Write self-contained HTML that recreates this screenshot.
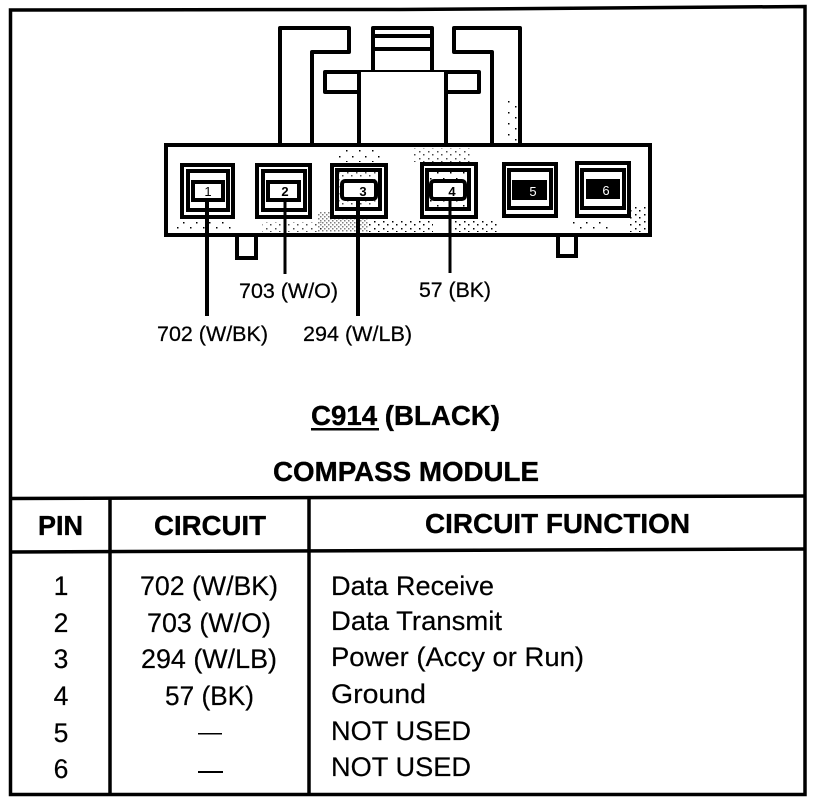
<!DOCTYPE html>
<html><head><meta charset="utf-8"><style>
html,body{margin:0;padding:0;background:#fff}
svg{display:block}
text{font-family:"Liberation Sans",Arial,sans-serif;fill:#000}
.b{font-weight:700;font-size:27.5px;stroke:#000;stroke-width:.35px}
.r{font-size:26.5px;stroke:#000;stroke-width:.2px}
.f{font-size:27px;stroke:#000;stroke-width:.2px}
.l{font-size:21.5px;stroke:#000;stroke-width:.25px}
</style></head><body>
<svg width="832" height="802" viewBox="0 0 832 802" xmlns="http://www.w3.org/2000/svg">
<defs>
<pattern id="d" width="4" height="4" patternUnits="userSpaceOnUse"><rect width="1.5" height="1.5" fill="#000"/><rect x="2" y="2" width="1.5" height="1.5" fill="#000"/></pattern>
<pattern id="s" width="9" height="7" patternUnits="userSpaceOnUse"><rect width="1.5" height="1.5" fill="#000"/><rect x="5" y="4" width="1.5" height="1.5" fill="#000"/></pattern>
<pattern id="t" width="13" height="11" patternUnits="userSpaceOnUse"><rect x="1" y="2" width="1.5" height="1.5" fill="#000"/><rect x="8" y="7" width="1.5" height="1.5" fill="#000"/></pattern>
</defs>
<rect width="832" height="802" fill="#fff"/>
<!-- outer frame -->
<path d="M10.5 10 L400 9.5 L805 6.5 L805 794.5 L10.5 794.5 Z" fill="none" stroke="#000" stroke-width="3.5"/>
<!-- table lines -->
<g stroke="#000" fill="none">
<path d="M10 498.5 L805 496" stroke-width="3.5"/>
<path d="M10 552 L805 549" stroke-width="3.5"/>
<path d="M110 498V794" stroke-width="3.5"/>
<path d="M309 498V794" stroke-width="3.5"/>
</g>
<!-- connector top -->
<g stroke="#000" stroke-width="4" fill="#fff" stroke-linejoin="round">
<path d="M280 145V28H349V52H312V145"/>
<path d="M454 28H520V145H492V52H454Z"/>
<path d="M373 72V28H432V72"/>
<path d="M373 36H432M373 49H432" fill="none"/>
<path d="M359 92H325V72H479V92H446"/>
<path d="M359 72V145H446V72"/>
</g>
<!-- connector body -->
<rect x="166" y="145" width="484" height="90" fill="#fff" stroke="#000" stroke-width="4"/>
<!-- stipple patches -->
<rect x="318" y="212" width="50" height="20" fill="url(#d)" opacity=".5"/>
<rect x="368" y="220" width="65" height="12" fill="url(#s)"/>
<rect x="450" y="220" width="50" height="12" fill="url(#s)"/>
<rect x="175" y="222" width="60" height="10" fill="url(#t)"/>
<rect x="262" y="222" width="60" height="10" fill="url(#s)" opacity=".7"/>
<rect x="335" y="148" width="45" height="14" fill="url(#t)"/>
<rect x="412" y="148" width="60" height="14" fill="url(#s)" opacity=".7"/>
<rect x="630" y="205" width="18" height="27" fill="url(#s)"/>
<rect x="570" y="222" width="40" height="10" fill="url(#t)"/>
<rect x="505" y="100" width="12" height="43" fill="url(#t)"/>
<!-- tabs -->
<g stroke="#000" stroke-width="4" fill="#fff">
<path d="M237 237V258H256V237"/>
<path d="M558 237V256H576V237"/>
</g>
<!-- pins -->
<g fill="#fff" stroke="#000">
<rect x="182" y="165" width="51" height="52" stroke-width="4"/>
<rect x="188" y="171" width="40" height="39" stroke-width="4"/>
<rect x="193" y="182" width="30" height="18" stroke-width="4"/>
<rect x="257" y="165" width="53" height="52" stroke-width="4"/>
<rect x="263" y="171" width="42" height="39" stroke-width="4"/>
<rect x="268" y="182" width="31" height="18" stroke-width="4"/>
<rect x="332" y="165" width="54" height="52" stroke-width="4"/>
<rect x="337" y="170" width="43" height="39" stroke-width="4"/>
<rect x="422" y="164" width="54" height="53" stroke-width="4"/>
<rect x="427" y="170" width="42" height="39" stroke-width="4"/>
<rect x="504" y="164" width="52" height="52" stroke-width="4"/>
<rect x="509" y="170" width="42" height="38" stroke-width="4"/>
<rect x="577" y="163" width="52" height="53" stroke-width="4"/>
<rect x="582" y="170" width="42" height="38" stroke-width="4"/>
</g>
<rect x="339" y="172" width="39" height="35" fill="url(#s)" opacity=".7"/>
<rect x="429" y="172" width="38" height="35" fill="url(#t)"/>
<g fill="#fff" stroke="#000">
<rect x="342" y="181" width="34" height="18" rx="3" stroke-width="4"/>
<rect x="431" y="181" width="34" height="18" rx="3" stroke-width="4"/>
</g>
<rect x="512" y="180" width="35" height="20" fill="#000"/>
<rect x="586" y="179" width="34" height="20" fill="#000"/>
<g font-size="13" text-anchor="middle">
<text x="208" y="196" style="font-weight:400">1</text>
<text x="285" y="196" style="font-weight:700">2</text>
<text x="363" y="196" style="font-weight:700">3</text>
<text x="452" y="196" style="font-weight:700">4</text>
<text x="533" y="196" style="fill:#fff">5</text>
<text x="606" y="195" style="fill:#fff">6</text>
</g>
<!-- wires -->
<g stroke="#000" fill="none">
<path d="M207 200V316" stroke-width="4"/>
<path d="M285 200V274" stroke-width="3"/>
<path d="M358 199V316" stroke-width="4"/>
<path d="M450 199V273" stroke-width="3"/>
</g>
<!-- wire labels -->
<text class="l" x="239" y="298" textLength="99" lengthAdjust="spacingAndGlyphs">703 (W/O)</text>
<text class="l" x="419" y="297" textLength="72" lengthAdjust="spacingAndGlyphs">57 (BK)</text>
<text class="l" x="157" y="341" textLength="111" lengthAdjust="spacingAndGlyphs">702 (W/BK)</text>
<text class="l" x="303" y="341" textLength="109" lengthAdjust="spacingAndGlyphs">294 (W/LB)</text>
<!-- titles -->
<text class="b" x="311" y="425" textLength="189" lengthAdjust="spacingAndGlyphs">C914 (BLACK)</text>
<rect x="311" y="428" width="68" height="2.5" fill="#000"/>
<text class="b" x="273" y="481" textLength="266" lengthAdjust="spacingAndGlyphs">COMPASS MODULE</text>
<text class="b" x="38" y="535" textLength="45" lengthAdjust="spacingAndGlyphs">PIN</text>
<text class="b" x="154" y="535" textLength="112" lengthAdjust="spacingAndGlyphs">CIRCUIT</text>
<text class="b" x="425" y="533" textLength="265" lengthAdjust="spacingAndGlyphs">CIRCUIT FUNCTION</text>
<!-- rows -->
<text class="r" x="61" y="595" text-anchor="middle">1</text>
<text class="r" x="61" y="632" text-anchor="middle">2</text>
<text class="r" x="61" y="668" text-anchor="middle">3</text>
<text class="r" x="61" y="705" text-anchor="middle">4</text>
<text class="r" x="61" y="742" text-anchor="middle">5</text>
<text class="r" x="61" y="778" text-anchor="middle">6</text>
<text class="r" x="140" y="595" textLength="138" lengthAdjust="spacingAndGlyphs">702 (W/BK)</text>
<text class="r" x="147" y="632" textLength="124" lengthAdjust="spacingAndGlyphs">703 (W/O)</text>
<text class="r" x="141" y="668" textLength="136" lengthAdjust="spacingAndGlyphs">294 (W/LB)</text>
<text class="r" x="165" y="705" textLength="89" lengthAdjust="spacingAndGlyphs">57 (BK)</text>
<rect x="198" y="733" width="24" height="1.5" fill="#000"/>
<rect x="198" y="771" width="25" height="2" fill="#000"/>
<text class="f" x="331" y="595" textLength="163" lengthAdjust="spacingAndGlyphs">Data Receive</text>
<text class="f" x="331" y="630" textLength="171" lengthAdjust="spacingAndGlyphs">Data Transmit</text>
<text class="f" x="331" y="666" textLength="253" lengthAdjust="spacingAndGlyphs">Power (Accy or Run)</text>
<text class="f" x="331" y="703" textLength="95" lengthAdjust="spacingAndGlyphs">Ground</text>
<text class="f" x="331" y="740" textLength="140" lengthAdjust="spacingAndGlyphs">NOT USED</text>
<text class="f" x="331" y="776" textLength="140" lengthAdjust="spacingAndGlyphs">NOT USED</text>
</svg>
</body></html>
